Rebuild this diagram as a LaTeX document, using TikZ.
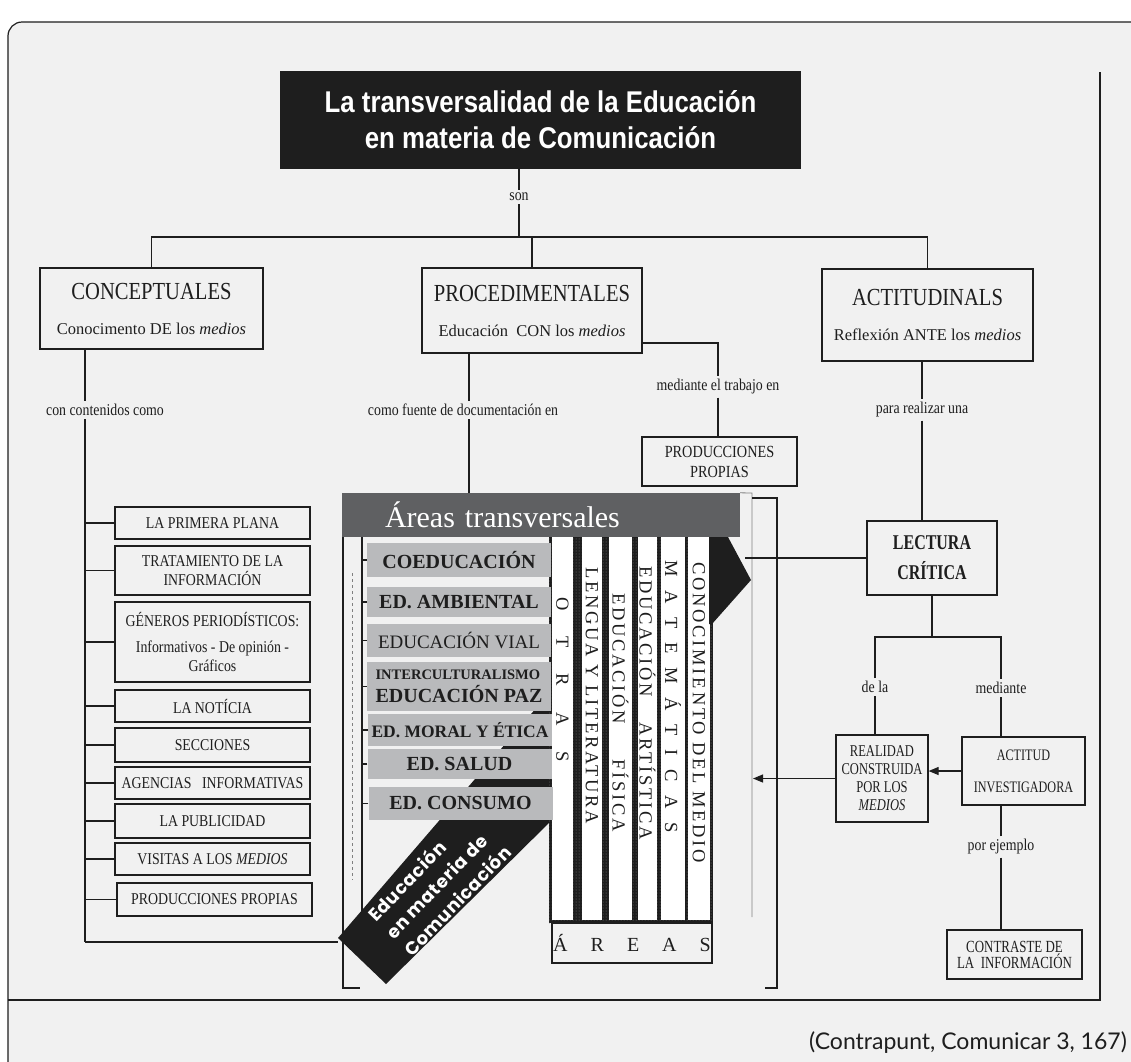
\documentclass[tikz,border=0pt]{standalone}
\usepackage{fontspec}
\setmainfont{Liberation Serif}
\newfontfamily\cndf{Liberation Serif}[FakeStretch=0.84]
\newfontfamily\vcndf{Liberation Serif}[FakeStretch=0.76]
\newfontfamily\titlef{Liberation Sans}[FakeStretch=0.86]
\newfontfamily\bandf{Poppins}[LetterSpace=4]
\newfontfamily\capf{Lato}
\usetikzlibrary{arrows.meta,positioning,patterns}
\definecolor{paper}{HTML}{F1F1F1}
\definecolor{areagray}{HTML}{B9BABC}
\definecolor{headgray}{HTML}{5F6062}
\definecolor{ink}{HTML}{1E1E1E}
\newcommand{\cathead}[1]{{\cndf\fontsize{24.5}{26}\selectfont #1}}

\begin{document}
\begin{tikzpicture}[x=1pt, y=-1pt, color=ink,
    wire/.style={line width=1.1pt},
    thickwire/.style={line width=2.6pt},
    thinline/.style={line width=0.8pt, gray},
    arrowhd/.style={-{Triangle[length=10pt,width=8pt]}},
    mainbox/.style={draw, line width=1.8pt, align=center, inner sep=0pt,
      font=\fontsize{16.5}{18}\selectfont},
    smallbox/.style={draw, line width=1.2pt, align=center, inner sep=0pt},
    itembox/.style={draw, line width=1.2pt, align=center, inner sep=0pt,
      minimum width=195pt, font=\cndf\fontsize{16.5}{19}\selectfont},
    areabox/.style={fill=areagray, inner sep=0pt, minimum width=184pt,
      font=\bfseries\fontsize{20}{22}\selectfont},
    lbl/.style={inner sep=3pt, font=\cndf\fontsize{16.5}{18}\selectfont},
    coltext/.style={rotate=-90, anchor=west, inner sep=0pt,
      font=\fontsize{18.5}{20}\selectfont\addfontfeatures{LetterSpace=15}}
  ]
  \useasboundingbox (0,0) rectangle (1131,1061);
  \clip (0,0) rectangle (1131,1061);
  % page and frame
  \fill[white] (0,0) rectangle (1131,1061);
  \fill[paper, rounded corners=14pt] (8,22) rectangle (1160,1090);
  \draw[line width=1.2pt, rounded corners=14pt] (1160,22) -- (8,22) -- (8,1090);
  \draw[wire] (1100,72) -- (1100,1000) -- (8,1000);

  % diagonal band
  \fill[ink] (338,938) -- (386,984) -- (556,816) -- (556,685) -- cycle;
  \node[text=white, rotate=46, align=left, inner sep=0pt,
    font=\bandf\bfseries\fontsize{18}{25}\selectfont] (band) at (439,883)
    {Educación\\en materia de\\Comunicación};

  % subject columns
  \fill[ink] (549,537) rectangle (713,923);
  \fill[pattern=dots, pattern color=gray] (549,537) rectangle (713,923);
  \foreach \xa/\xb in {552/573, 582/602, 609/632, 638/657, 661/685, 688/710}
    \fill[white] (\xa,537) rectangle (\xb,920);
  \node[coltext] (otras) at (562.5,597) {{\spaceskip=26pt\relax O T R A S}};
  \node[coltext] (lengua) at (592,567) {LENGUA Y LITERATURA};
  \node[coltext] (fisica) at (620.5,593) {{\spaceskip=35pt\relax EDUCACIÓN FÍSICA}};
  \node[coltext] (artis) at (647.5,566) {{\spaceskip=25pt\relax EDUCACIÓN ARTÍSTICA}};
  \node[coltext] (mates) at (673,560) {{\spaceskip=13.7pt\relax M A T E M Á T I C A S}};
  \node[coltext] (medio) at (699,562) {CONOCIMIENTO DEL MEDIO};
  \node[draw, wire, minimum width=160pt, minimum height=40pt, inner sep=0pt,
    font=\fontsize{20}{22}\selectfont] (areas) at (632,943)
    {{\spaceskip=23pt\relax Á R E A S}};

  % header and bracket
  \node[fill=headgray, text=white, inner xsep=43pt, inner ysep=0pt,
    text width=312pt, align=left, minimum height=44pt,
    font=\fontsize{30}{32}\selectfont] (head) at (541,515) {Áreas transversales};
  \draw[thinline] (head.north east) -- (752,493) -- (752,917);
  \draw[wire] (752,498) -- (777,498) -- (777,988) -- (765,988);
  \draw[wire] (343,537) -- (343,988) -- (360,988);
  \draw[thinline, dashed] (352,573) -- (352,880);
  \coordinate (lspine) at (362,537);
  \draw[wire] (lspine) -- (362,925);

  % transversal areas
  \node[areabox, minimum height=34pt] (coed) at (459,560) {COEDUCACIÓN};
  \node[areabox, minimum height=30pt] (amb) at (459,602) {ED. AMBIENTAL};
  \node[areabox, minimum height=33pt, font=\fontsize{19}{20}\selectfont] (vial)
    at (459,640.5) {EDUCACIÓN VIAL};
  \node[areabox, minimum height=49pt, align=left] (inter) at (459,686.5)
    {{\fontsize{14.5}{16}\selectfont INTERCULTURALISMO}\\[1pt]EDUCACIÓN PAZ};
  \node[areabox, minimum height=32pt, font=\bfseries\fontsize{17.5}{20}\selectfont]
    (moral) at (460,730) {ED. MORAL Y ÉTICA};
  \node[areabox, minimum height=30pt] (salud) at (459.5,764) {ED. SALUD};
  \node[areabox, minimum height=33pt] (cons) at (460.5,803.5) {ED. CONSUMO};
  \foreach \nm in {coed,amb,vial,inter,moral,salud,cons}
    \draw[wire] (\nm.west) -- (\nm.west -| lspine);

  % title and the three kinds
  \node[fill=ink, text=white, minimum width=521pt, minimum height=98pt,
    align=center, font=\titlef\bfseries\fontsize{30}{36}\selectfont] (title)
    at (540.5,120) {La transversalidad de la Educación\\en materia de Comunicación};
  \node[lbl] (son) at (519,197) {son};
  \node[mainbox, minimum width=223pt, minimum height=81pt] (conc) at (151.5,308.5)
    {\cathead{CONCEPTUALES}\\[17pt]Conocimento DE los \textit{medios}};
  \node[mainbox, minimum width=220pt, minimum height=85pt] (proc) at (532,310.5)
    {\cathead{PROCEDIMENTALES}\\[17pt]Educación\ \ CON los \textit{medios}};
  \node[mainbox, minimum width=211pt, minimum height=92pt] (acti) at (927.5,315)
    {\cathead{ACTITUDINALS}\\[17pt]Reflexión ANTE los \textit{medios}};

  % link labels
  \node[lbl] (cont) at (105,410) {con contenidos como};
  \node[lbl] (fuente) at (463,410) {como fuente de documentación en};
  \node[lbl] (trab) at (718,387) {mediante el trabajo en};
  \node[lbl] (para) at (922,410) {para realizar una};
  \node[lbl] (dela) at (875,687) {de la};
  \node[lbl] (med) at (1001,688) {mediante};
  \node[lbl] (ejem) at (1001,847) {por ejemplo};

  % contents of the media
  \node[itembox, minimum height=32pt] (it1) at (212.5,523) {LA PRIMERA PLANA};
  \node[itembox, minimum height=49pt] (it2) at (212.5,570.5)
    {TRATAMIENTO DE LA\\INFORMACIÓN};
  \node[itembox, minimum height=80pt] (it3) at (212.5,642)
    {GÉNEROS PERIODÍSTICOS:\\[7pt]Informativos - De opinión -\\Gráficos};
  \node[itembox, minimum height=32pt] (it4) at (212.5,706) {LA NOTÍCIA};
  \node[itembox, minimum height=34pt] (it5) at (212.5,745) {SECCIONES};
  \node[itembox, minimum height=32pt] (it6) at (212.5,783)
    {AGENCIAS\ \ \ INFORMATIVAS};
  \node[itembox, minimum height=34pt] (it7) at (212.5,821) {LA PUBLICIDAD};
  \node[itembox, minimum height=32pt] (it8) at (212.5,859)
    {VISITAS A LOS \textit{MEDIOS}};
  \node[itembox, minimum height=33pt] (it9) at (214.5,899.5) {PRODUCCIONES PROPIAS};

  % right hand boxes
  \node[smallbox, minimum width=155pt, minimum height=49pt,
    font=\cndf\fontsize{17}{20}\selectfont] (prodp) at (719.5,461.5)
    {PRODUCCIONES\\PROPIAS};
  \node[draw, line width=2.6pt, minimum width=130pt, minimum height=74pt,
    align=center, inner sep=0pt, font=\vcndf\bfseries\fontsize{21}{30}\selectfont]
    (lect) at (932,558) {LECTURA\\CRÍTICA};
  \node[smallbox, minimum width=92pt, minimum height=87pt,
    font=\vcndf\fontsize{16.5}{18}\selectfont] (real) at (882,778.5)
    {REALIDAD\\CONSTRUIDA\\POR LOS\\\textit{MEDIOS}};
  \node[smallbox, minimum width=123pt, minimum height=68pt,
    font=\vcndf\fontsize{16}{18}\selectfont] (acinv) at (1023.5,771)
    {ACTITUD\\[14pt]INVESTIGADORA};
  \node[smallbox, minimum width=135pt, minimum height=49pt,
    font=\vcndf\fontsize{17}{16}\selectfont] (contr) at (1014.5,954.5)
    {CONTRASTE DE\\LA\ \ INFORMACIÓN};

  % connectors from the title
  \coordinate (bar) at (519,237);
  \draw[wire] (son.north) -- (son.north |- title.south);
  \draw[wire] (son.south) -- (son.south |- bar);
  \draw[wire] (conc.north) -- (conc.north |- bar) -- (acti.north |- bar) -- (acti.north);
  \draw[wire] (proc.north) -- (proc.north |- bar);

  % conceptual branch
  \coordinate (cspine) at (85,942);
  \coordinate (btip) at (338,942);
  \draw[wire] (cspine |- conc.south) -- (cspine |- cont.north);
  \draw[wire] (cspine |- cont.south) -- (cspine);
  \draw[thickwire] (cspine) -- (btip);
  \foreach \nm in {it1,it2,it3,it4,it5,it6,it7,it8,it9}
    \draw[wire] (\nm.west) -- (\nm.west -| cspine);

  % procedural branch
  \coordinate (pspine) at (469,493);
  \draw[wire] (pspine |- proc.south) -- (pspine |- fuente.north);
  \draw[wire] (pspine |- fuente.south) -- (pspine);
  \coordinate (pbend) at (718,343);
  \draw[wire] (pbend -| proc.east) -- (pbend) -- (trab.north);
  \draw[wire] (trab.south) -- (trab.south |- prodp.north);

  % attitudinal branch
  \coordinate (aspine) at (922,521);
  \draw[wire] (aspine |- acti.south) -- (aspine |- para.north);
  \draw[line width=2pt] (aspine |- para.south) -- (aspine);
  \coordinate (lfoot) at (745,558);
  \draw[thickwire] (lect.west) -- (lect.west -| lfoot);
  \coordinate (split) at (923,637);
  \draw[wire] (lect.south) -- (lect.south |- split);
  \draw[wire] (dela.north) -- (dela.north |- split) -- (med.north |- split) -- (med.north);
  \draw[wire] (dela.south) -- (dela.south |- real.north);
  \draw[wire] (med.south) -- (med.south |- acinv.north);
  \draw[wire] (ejem.north) -- (ejem.north |- acinv.south);
  \draw[wire] (ejem.south) -- (ejem.south |- contr.north);
  \coordinate (rline) at (753,782);
  \draw[wire, arrowhd] (acinv.west) -- (acinv.west -| real.east);
  \draw[wire, arrowhd] (real.west) -- (real.west -| rline);

  % black wedge beside the columns
  \fill[ink] (709,537) -- (728,537) -- (751,580) -- (712,624) -- (709,624) -- cycle;

  % source
  \node[anchor=east, inner sep=0pt, font=\capf\fontsize{23}{25}\selectfont] (src)
    at (1127,1043) {(Contrapunt, Comunicar 3, 167)};
\end{tikzpicture}
\end{document}
